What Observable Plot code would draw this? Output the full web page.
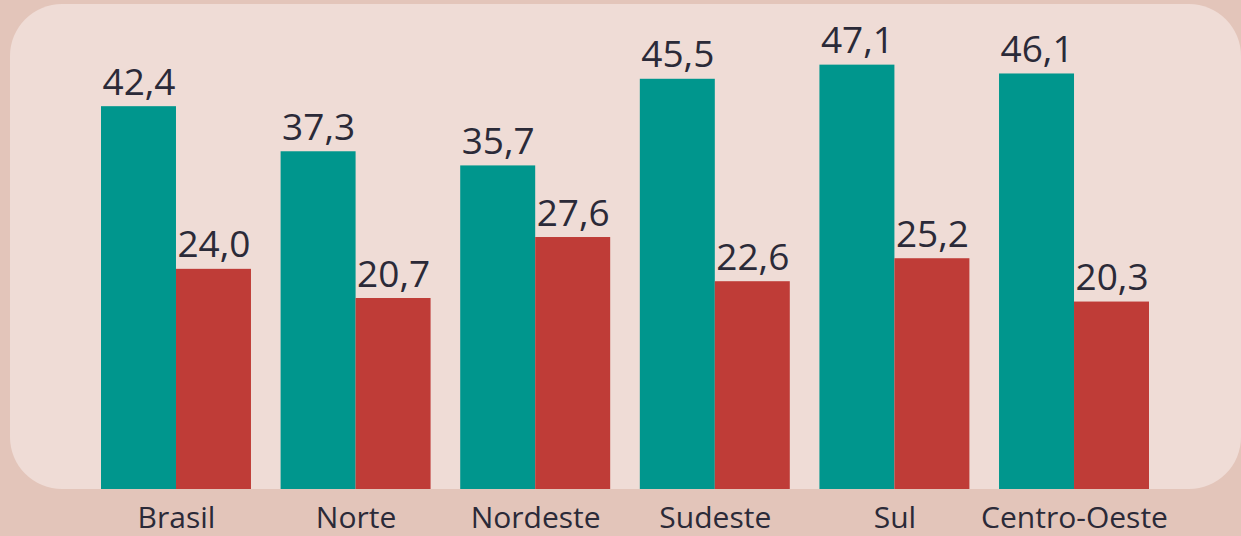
<!DOCTYPE html>
<html>
<head>
<meta charset="utf-8">
<script src="https://cdn.jsdelivr.net/npm/d3@7"></script>
<script src="https://cdn.jsdelivr.net/npm/@observablehq/plot@0.6"></script>
<style>
  html, body { margin: 0; padding: 0; background: #e3c5ba; }
  #wrap { position: relative; width: 1241px; height: 536px; background: #e3c5ba; overflow: hidden; }
  #panel { position: absolute; left: 10px; top: 4px; width: 1231px; height: 485px; background: #efdcd6; border-radius: 52px; }
  #chart { position: absolute; left: 0; top: 0; }
</style>
</head>
<body>
<div id="wrap"><div id="panel"></div><div id="chart"></div></div>
<script>
const regions = ["Brasil", "Norte", "Nordeste", "Sudeste", "Sul", "Centro-Oeste"];
const series = ["A", "B"];
const valuesA = [42.4, 37.3, 35.7, 45.5, 47.1, 46.1];
const valuesB = [24.0, 20.7, 27.6, 22.6, 25.2, 20.3];
const colors = ["#00968d", "#bf3c37"];

const data = regions.flatMap((r, i) => [
  {region: r, serie: series[0], value: valuesA[i]},
  {region: r, serie: series[1], value: valuesB[i]}
]);

const fmt = v => v.toFixed(1).replace(".", ",");

const chart = Plot.plot({
  width: 1241,
  height: 536,
  marginLeft: 101,
  marginRight: 92,
  marginTop: 39,
  marginBottom: 55,
  style: {background: "transparent", fontFamily: "'Open Sans', sans-serif", color: "#2b2a38"},
  fx: {domain: regions, paddingInner: 0.165, paddingOuter: 0, round: false, label: null},
  x: {domain: series, padding: 0, round: false, axis: null},
  y: {domain: [0, 50], axis: null},
  color: {domain: series, range: colors},
  marks: [
    Plot.barY(data, {fx: "region", x: "serie", y: "value", fill: "serie", insetBottom: -8}),
    Plot.text(data, {fx: "region", x: "serie", y: "value", text: d => fmt(d.value), lineAnchor: "bottom", dy: -12, fontSize: 37, fill: "#2b2a38"}),
    Plot.axisFx({anchor: "bottom", tickSize: 0, tickPadding: 25, fontSize: 30, label: null, fill: "#2b2a38"})
  ]
});
document.getElementById("chart").appendChild(chart);
</script>
</body>
</html>
